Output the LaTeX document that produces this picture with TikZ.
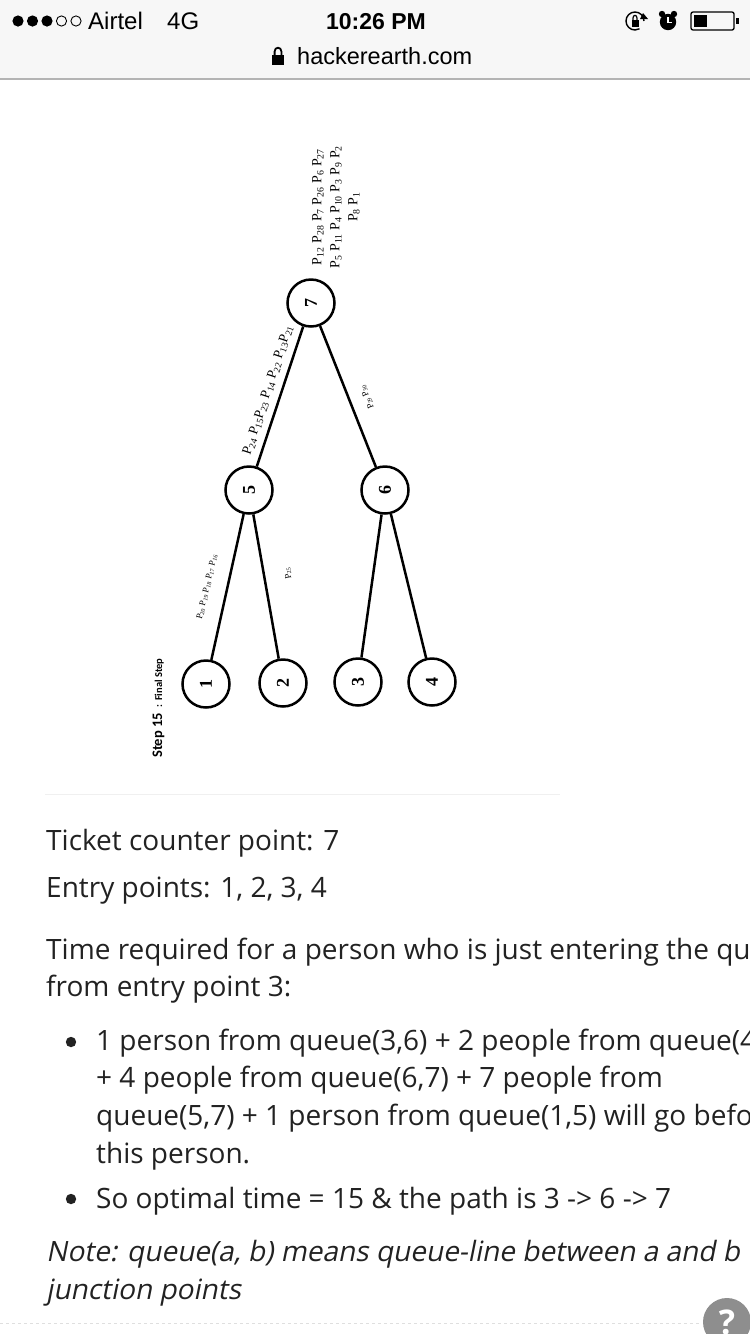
\documentclass[tikz,border=0pt]{standalone}
\usepackage{fontspec}
\setmainfont{Open Sans}
\newfontfamily\fauxit[FakeSlant=0.2]{Open Sans}
\newfontfamily\statusfont{Liberation Sans}
\newfontfamily\figserif{Liberation Serif}
\newfontfamily\figsans{Carlito}
\usetikzlibrary{arrows.meta}
\definecolor{bodytext}{HTML}{222222}
\definecolor{barbg}{HTML}{F7F7F7}
\definecolor{barline}{HTML}{B4B4B4}
\definecolor{helpgray}{HTML}{8E8E8E}
\newcommand{\PP}[1]{P\textsubscript{#1}}
\tikzset{
  junction/.style={circle, draw, line width=2.5pt, minimum size=47pt, inner sep=0pt,
    font=\figserif\bfseries\fontsize{18}{18}\selectfont, rotate=90},
  edge/.style={line width=2.5pt},
  plabel/.style={inner sep=0pt, font=\figserif\fontsize{14}{18}\selectfont},
  smalllabel/.style={inner sep=0pt, font=\figserif\fontsize{9}{10}\selectfont},
  body/.style={anchor=base west, inner sep=0pt, text=bodytext, font=\fontsize{28}{37}\selectfont},
  bodyit/.style={body, font=\fauxit\fontsize{28}{37}\selectfont},
  status/.style={anchor=base west, inner sep=0pt, font=\statusfont\fontsize{23}{23}\selectfont}
}
\begin{document}
\begin{tikzpicture}[x=1pt,y=-1pt]
\useasboundingbox (0,0) rectangle (750,1334);
\clip (0,0) rectangle (750,1334);
\fill[white] (0,0) rectangle (750,1334);

% status bar
\fill[barbg] (0,0) rectangle (750,78);
\draw[barline, line width=2pt] (0,79) -- (750,79);
\foreach \i in {0,1,2} \fill (18+14.5*\i,21) circle (5.6);
\foreach \i in {3,4} \draw[line width=0.9pt] (18+14.5*\i,21) circle (5.1);
\node[status, font=\statusfont\fontsize{24}{24}\selectfont] (carrier) at (88,29) {Airtel};
\node[status, font=\statusfont\fontsize{24}{24}\selectfont] (net) at (167,29) {4G};
\node[status, anchor=base, font=\statusfont\bfseries\fontsize{23}{23}\selectfont] (clock) at (376,29) {10:26 PM};
\node[status, font=\statusfont\fontsize{23.5}{23.5}\selectfont] (url) at (297,64) {hackerearth.com};
% padlock
\fill (272,55) rectangle (284,65);
\draw[line width=1.8pt] (274.6,56) -- (274.6,51.5) .. controls (274.6,46.5) and (281.4,46.5) .. (281.4,51.5) -- (281.4,56);
% rotation lock
\draw[line width=1.4pt] (644,21) arc[start angle=0, end angle=-300, radius=9];
\fill (643,13) -- (648,19) -- (640,19) -- cycle;
\fill (631.5,20) rectangle (638.5,26.5);
\draw[line width=1.2pt] (633,20.5) -- (633,18) .. controls (633,14.5) and (637,14.5) .. (637,18) -- (637,20.5);
% alarm
\fill (668,22) circle (8.2);
\fill (662,14) circle (3.2);
\fill (674,14) circle (3.2);
\draw[white, line width=1.5pt] (668,17) -- (668,22.5) -- (671.5,22.5);
% battery
\draw[line width=1.3pt, rounded corners=2pt] (691,12) rectangle (734,30);
\fill (694,15) rectangle (707,27);
\fill (736,18) rectangle (739,24);

% diagram
\node[junction] (n7) at (311,303) {7};
\node[junction] (n5) at (249,490) {5};
\node[junction] (n6) at (385,490) {6};
\node[junction] (n1) at (206,684) {1};
\node[junction] (n2) at (283,683) {2};
\node[junction] (n3) at (358,682) {3};
\node[junction] (n4) at (432,682) {4};
\draw[edge] (n7) -- (n5);
\draw[edge] (n7) -- (n6);
\draw[edge] (n5) -- (n1);
\draw[edge] (n5) -- (n2);
\draw[edge] (n6) -- (n3);
\draw[edge] (n6) -- (n4);

\node[plabel, rotate=90, align=center] (lab7) at (336,207)
  {\PP{12} \PP{28} \PP{7} \PP{26} \PP{6} \PP{27}\\ \PP{5} \PP{11} \PP{4} \PP{10} \PP{3} \PP{9} \PP{2}\\ \PP{8} \PP{1}};
\node[plabel, rotate=72, font=\figserif\fontsize{13.5}{13.5}\selectfont] (lab57) at (268,390)
  {\PP{24} \PP{15}\PP{23} \PP{14} \PP{22} \PP{13}\PP{21}};
\node[smalllabel, rotate=77] (lab15) at (207,587) {\PP{20} \PP{19} \PP{18} \PP{17} \PP{16}};
\node[smalllabel, rotate=100] (lab25) at (288,573) {\PP{25}};
\node[smalllabel, rotate=111] (lab67) at (367,397) {\PP{29} \PP{30}};

\node[inner sep=0pt, rotate=90, anchor=base west, font=\figsans\bfseries] (steplab) at (162,758)
  {\fontsize{14.5}{14.5}\selectfont Step 15\hspace{6pt}\fontsize{10.5}{10.5}\selectfont : Final Step};

\draw[gray!12, line width=1pt] (45,794) -- (560,794);

% body text
\node[body] (t1) at (46,850) {Ticket counter point: 7};
\node[body] (t2) at (46,897) {Entry points: 1, 2, 3, 4};
\node[body] (t3) at (46,959) {Time required for a person who is just entering the queue};
\node[body] (t4) at (46,996) {from entry point 3:};
\fill[bodytext] (71,1042) circle (5.2);
\node[body] (b1) at (96,1050) {1 person from queue(3,6) + 2 people from queue(4,6)};
\node[body] (b2) at (96,1087) {+ 4 people from queue(6,7) + 7 people from};
\node[body] (b3) at (96,1125) {queue(5,7) + 1 person from queue(1,5) will go before};
\node[body] (b4) at (96,1163) {this person.};
\fill[bodytext] (71,1199) circle (5.2);
\node[body] (b5) at (96,1208) {So optimal time = 15 \& the path is 3 -> 6 -> 7};
\node[bodyit] (n1t) at (46,1261) {Note: queue(a, b) means queue-line between a and b};
\node[bodyit] (n2t) at (46,1299) {junction points};

% bottom
\draw[gray!25, dashed, line width=0.8pt] (0,1323) -- (700,1323);
\fill[helpgray] (727,1322) circle (24);
\node[text=white, inner sep=0pt, font=\bfseries\fontsize{34}{34}\selectfont] (help) at (727,1322) {?};
\end{tikzpicture}
\end{document}
